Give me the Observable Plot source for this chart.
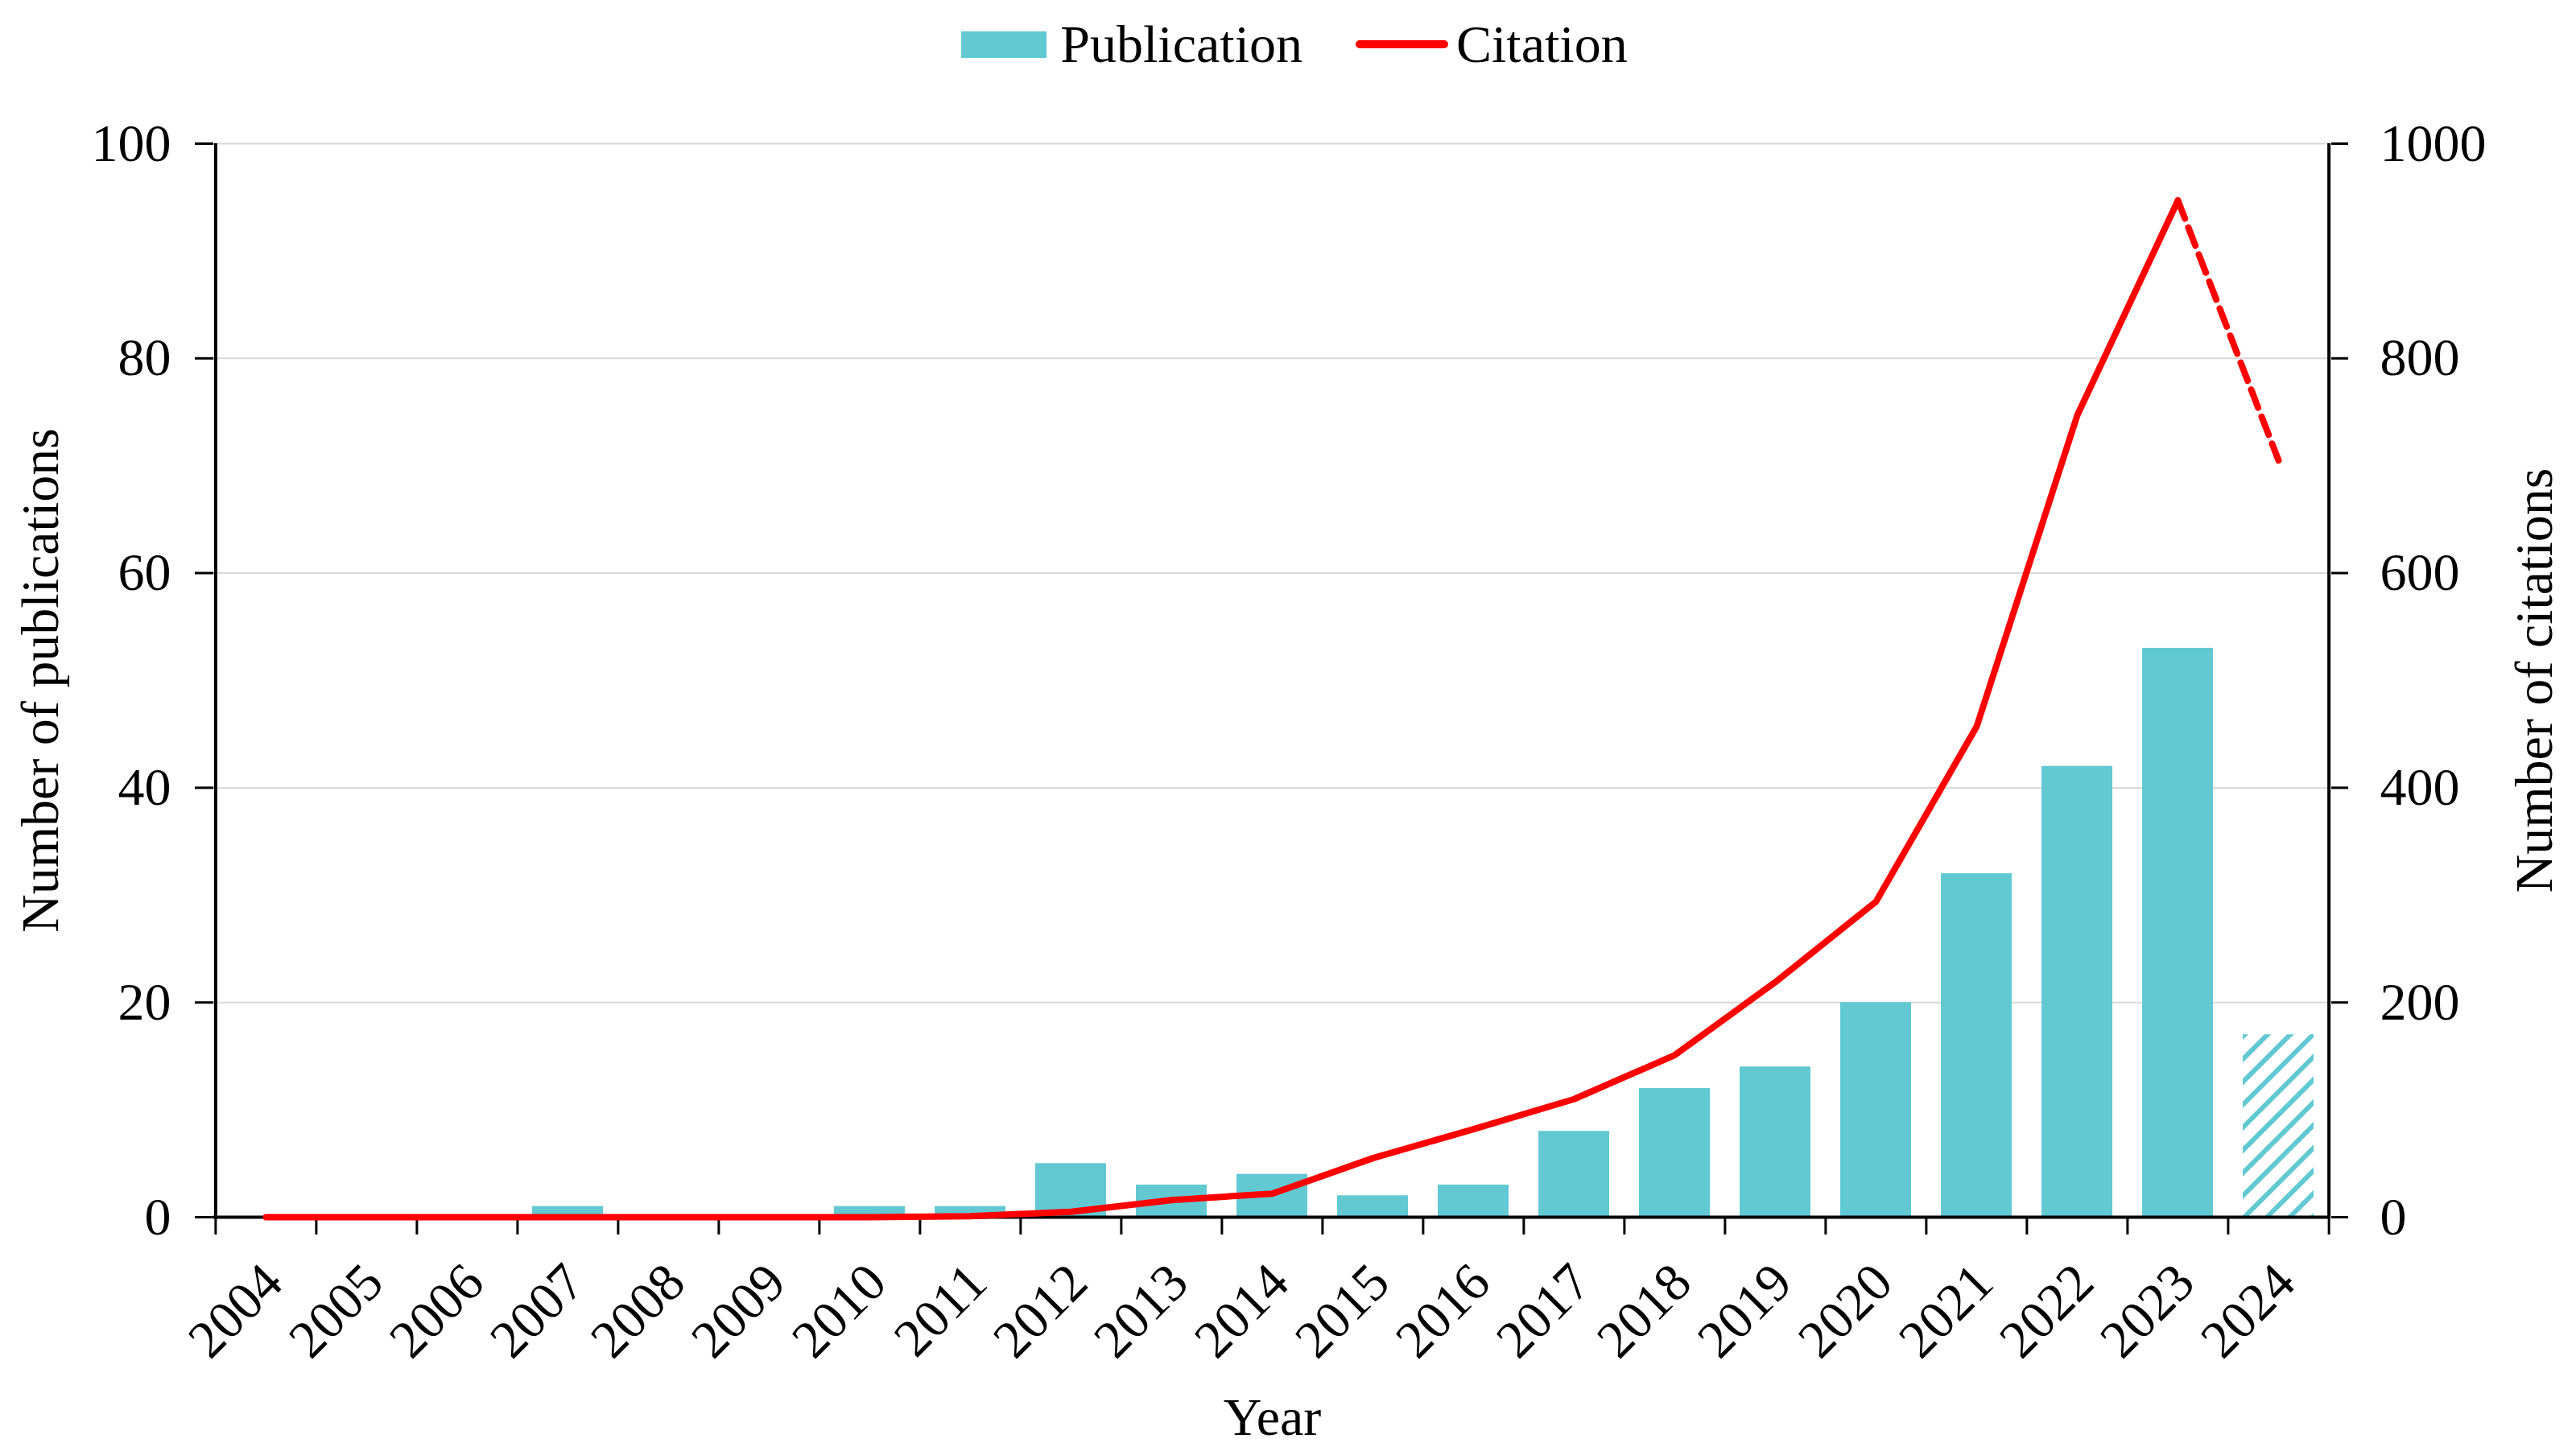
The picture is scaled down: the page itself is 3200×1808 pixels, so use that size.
<!DOCTYPE html>
<html><head><meta charset="utf-8">
<script src="https://cdn.jsdelivr.net/npm/d3@7"></script>
<script src="https://cdn.jsdelivr.net/npm/@observablehq/plot@0.6"></script>
<style>
body{margin:0;background:#fff;font-family:"Liberation Serif","Times New Roman",serif;}
#legend{height:110px;display:flex;align-items:center;justify-content:center;font-size:66px;color:#000;padding-left:16px;box-sizing:border-box}
.sw{display:inline-block;width:106px;height:33px;background:#62c9d3;margin-right:17px}
.ln{display:inline-block;width:115px;height:10px;background:#ff0000;border-radius:5px;margin-right:10px;margin-left:66px}
</style></head><body>
<div id="legend"><span class="sw"></span><span>Publication</span><span class="ln"></span><span>Citation</span></div>
<div id="chart"></div>
<script>
const years = ["2004","2005","2006","2007","2008","2009","2010","2011","2012","2013","2014","2015","2016","2017","2018","2019","2020","2021","2022","2023","2024"];
const publications = [0,0,0,1,0,0,1,1,5,3,4,2,3,8,12,14,20,32,42,53,17];
const citations = [0,0,0,0,0,0,0,1,5,16,22,55,82,110,151,219,294,457,747,947,705];
const pubTicks = [0,20,40,60,80,100];
const citTicks = [0,200,400,600,800,1000];
const partialYear = "2024";

const W = 3200, H = 1698, ML = 265, MR = 305, MT = 68, MB = 296;
const step = (W - ML - MR) / years.length;
const pxPerUnit = (H - MT - MB) / 100;
const rows = years.map((year, i) => ({year, pub: publications[i], cit: citations[i]}));
const fullRows = rows.filter(d => d.year !== partialYear);
const partRows = rows.filter(d => d.year === partialYear);
const lastFull = fullRows[fullRows.length - 1].year;
const dashedRows = rows.filter(d => d.year === lastFull || d.year === partialYear);
const teal = "#62c9d3";

const chart = Plot.plot({
  width: W, height: H,
  marginLeft: ML, marginRight: MR, marginTop: MT, marginBottom: MB,
  style: {fontFamily: "Liberation Serif, Times New Roman, serif", fontSize: "66px", color: "black", background: "white"},
  x: {type: "band", domain: years, paddingInner: 0.3, paddingOuter: 0.15},
  y: {domain: [0, 100]},
  marks: [
    Plot.gridY(pubTicks, {stroke: "#d9d9d9", strokeOpacity: 1, strokeWidth: 2}),
    Plot.barY(fullRows, {x: "year", y: "pub", fill: teal}),
    Plot.barY(partRows, {x: "year", y: "pub", fill: "url(#hatch)"}),
    Plot.ruleY([0], {stroke: "black", strokeWidth: 4}),
    Plot.ruleX([years[0]], {x: d => d, y1: 0, y2: 100, dx: -step / 2, stroke: "black", strokeWidth: 4}),
    Plot.ruleX([years[years.length - 1]], {x: d => d, y1: 0, y2: 100, dx: step / 2, stroke: "black", strokeWidth: 4}),
    Plot.ruleX(years, {x: d => d, y1: 0, y2: -22 / pxPerUnit, dx: -step / 2, stroke: "black", strokeWidth: 3}),
    Plot.ruleX([years[years.length - 1]], {x: d => d, y1: 0, y2: -22 / pxPerUnit, dx: step / 2, stroke: "black", strokeWidth: 3}),
    Plot.axisY({anchor: "left", ticks: pubTicks, tickSize: 23, tickPadding: 30, strokeWidth: 3,
      label: "Number of publications", labelAnchor: "center", labelArrow: "none", labelOffset: 240}),
    Plot.axisY({anchor: "right", ticks: citTicks.map(v => v / 10), tickFormat: d => String(Math.round(d * 10)),
      tickSize: 21, tickPadding: 40, strokeWidth: 3,
      label: "Number of citations", labelAnchor: "center", labelArrow: "none", labelOffset: 274}),
    Plot.axisX({tickRotate: -45, tickSize: 0, tickPadding: 70, dx: 9,
      label: "Year", labelAnchor: "center", labelArrow: "none", labelOffset: 270}),
    Plot.line(fullRows, {x: "year", y: d => d.cit / 10, stroke: "#ff0000", strokeWidth: 8}),
    Plot.line(dashedRows, {x: "year", y: d => d.cit / 10, stroke: "#ff0000", strokeWidth: 8, strokeDasharray: "24,12"})
  ]
});
d3.select(chart).insert("defs", ":first-child").html(
  `<pattern id="hatch" patternUnits="userSpaceOnUse" width="20" height="20" patternTransform="rotate(45)">
     <rect width="20" height="20" fill="white"/>
     <line x1="0" y1="0" x2="0" y2="20" stroke="${teal}" stroke-width="12"/>
   </pattern>`);
document.getElementById("chart").appendChild(chart);
</script>
</body></html>
